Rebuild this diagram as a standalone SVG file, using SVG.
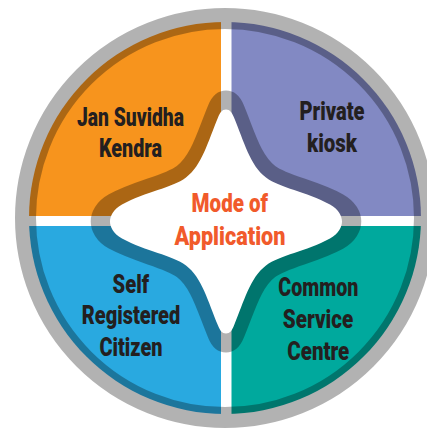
<svg xmlns="http://www.w3.org/2000/svg" width="427" height="429" viewBox="0 0 427 429">
  <style>
    .lbl { font-family: Roboto, "Liberation Sans", "DejaVu Sans", sans-serif; font-weight: 900; font-size: 25px; fill: #231F20; text-anchor: middle; }
    .ctr { font-family: Roboto, "Liberation Sans", "DejaVu Sans", sans-serif; font-weight: 900; font-size: 25px; fill: #F15A2B; text-anchor: middle; }
  </style>
  <defs>
    <clipPath id="disc">
      <circle cx="225" cy="218" r="196"/>
    </clipPath>
    <path id="star" d="M 0,-112 C -4,-112 -6,-109 -8,-104 C -18,-80 -24,-56 -40,-44 C -54,-33.5 -80,-30 -104,-17 C -113,-12 -116,-5 -116,0 C -116,5 -113,12 -104,17 C -80,30 -54,33.5 -40,44 C -24,56 -18,80 -8,104 C -6,109 -4,112 0,112 C 4,112 6,109 8,104 C 18,80 24,56 40,44 C 54,33.5 80,30 104,17 C 113,12 116,5 116,0 C 116,-5 113,-12 104,-17 C 80,-30 54,-33.5 40,-44 C 24,-56 18,-80 8,-104 C 6,-109 4,-112 0,-112 Z"/>
  </defs>
  <rect x="0" y="0" width="427" height="429" fill="#fff"/>

  <g id="jan-suvidha-kendra">
    <rect x="0" y="0" width="221" height="216" fill="#F7941D" clip-path="url(#disc)"/>
    <text class="lbl" x="130.5" y="126" textLength="107" lengthAdjust="spacingAndGlyphs">Jan Suvidha</text>
    <text class="lbl" x="130.5" y="157" textLength="63" lengthAdjust="spacingAndGlyphs">Kendra</text>
  </g>
  <g id="private-kiosk">
    <rect x="231.5" y="0" width="196" height="216" fill="#8289C3" clip-path="url(#disc)"/>
    <text class="lbl" x="332" y="119.5" textLength="65" lengthAdjust="spacingAndGlyphs">Private</text>
    <text class="lbl" x="332" y="151.5" textLength="50" lengthAdjust="spacingAndGlyphs">kiosk</text>
  </g>
  <g id="self-registered-citizen">
    <rect x="0" y="226" width="221" height="203" fill="#29A9E0" clip-path="url(#disc)"/>
    <text class="lbl" x="130.8" y="292.7" textLength="36.5" lengthAdjust="spacingAndGlyphs">Self</text>
    <text class="lbl" x="131" y="324.3" textLength="98.5" lengthAdjust="spacingAndGlyphs">Registered</text>
    <text class="lbl" x="131" y="355.5" textLength="63" lengthAdjust="spacingAndGlyphs">Citizen</text>
  </g>
  <g id="common-service-centre">
    <rect x="231.5" y="226" width="196" height="203" fill="#00A99D" clip-path="url(#disc)"/>
    <text class="lbl" x="318.3" y="295.7" textLength="80" lengthAdjust="spacingAndGlyphs">Common</text>
    <text class="lbl" x="318" y="327.6" textLength="70.5" lengthAdjust="spacingAndGlyphs">Service</text>
    <text class="lbl" x="318.3" y="359.8" textLength="62" lengthAdjust="spacingAndGlyphs">Centre</text>
  </g>

  <g id="outer-ring">
    <circle cx="225" cy="218" r="199.5" fill="none" stroke="#000" stroke-opacity="0.3" stroke-width="21"/>
  </g>

  <g id="mode-of-application">
    <g opacity="0.3">
      <use href="#star" transform="translate(226,221.5) scale(1.08)" fill="#000" stroke="#000" stroke-width="18.5" stroke-linejoin="round"/>
    </g>
    <use href="#star" transform="translate(226,221.5)" fill="#fff"/>
    <text class="ctr" x="229.8" y="211.5" textLength="76.5" lengthAdjust="spacingAndGlyphs">Mode of</text>
    <text class="ctr" x="230" y="245" textLength="111" lengthAdjust="spacingAndGlyphs">Application</text>
  </g>

  <g id="connectors"/>
</svg>
